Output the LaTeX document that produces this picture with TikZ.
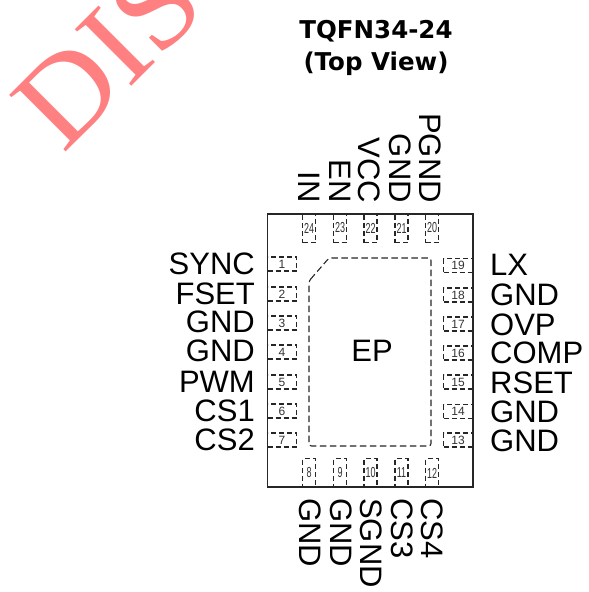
\documentclass[tikz,border=0pt]{standalone}
\usepackage{fontspec}
\setmainfont{Liberation Sans}
\newfontfamily\titlefont{DejaVu Sans}
\newfontfamily\markfont[FakeStretch=1.05]{Liberation Serif}
\newfontfamily\thinfont[FakeStretch=0.62]{Liberation Sans}
\usepackage{xcolor}
\usepackage{tikz}
\definecolor{markred}{HTML}{FF8080}
\definecolor{pinnum}{HTML}{333333}

\begin{document}
\begin{tikzpicture}[
            x=1pt, y=-1pt,
            padside/.style={rectangle, draw=black!85, dashed, dash pattern=on 5pt off 3pt, line width=1.1pt, text=pinnum, inner sep=0pt, minimum width=29pt, minimum height=14pt, font=\fontsize{12}{12}\selectfont},
            padvert/.style={rectangle, draw=black!85, dashed, dash pattern=on 5pt off 3pt, line width=1.1pt, text=pinnum, inner sep=0pt, minimum width=13pt, minimum height=29pt, font=\thinfont\fontsize{14.5}{14.5}\selectfont},
            pinleft/.style={anchor=east, inner sep=0pt, font=\fontsize{31}{31}\selectfont},
            pinright/.style={anchor=west, inner sep=0pt, font=\fontsize{31}{31}\selectfont},
            pintop/.style={anchor=east, rotate=-90, inner sep=0pt, font=\fontsize{31}{31}\selectfont},
            pinbottom/.style={anchor=west, rotate=-90, inner sep=0pt, font=\fontsize{31}{31}\selectfont}
        ]
        \useasboundingbox (0,0) rectangle (589,592);

        \node[rotate=45, anchor=base west, inner sep=0pt, text=markred, font=\markfont\fontsize{122}{122}\selectfont] (mark) at (63,155) {DIS};

        \node[align=center, inner sep=0pt, font=\titlefont\bfseries\fontsize{24.5}{32}\selectfont] (title) at (376,48) {TQFN34-24\\(Top View)};

        \node[padside] (pad1) at (282,264) {1};
        \node[padside] (pad2) at (282,294) {2};
        \node[padside] (pad3) at (282,323) {3};
        \node[padside] (pad4) at (282,352) {4};
        \node[padside] (pad5) at (282,382) {5};
        \node[padside] (pad6) at (282,411) {6};
        \node[padside] (pad7) at (282,440) {7};

        \node[padvert] (pad8) at (309,473) {8};
        \node[padvert] (pad9) at (340,473) {9};
        \node[padvert] (pad10) at (370.5,473) {10};
        \node[padvert] (pad11) at (401.5,473) {11};
        \node[padvert] (pad12) at (432,473) {12};

        \node[padside] (pad13) at (458,440) {13};
        \node[padside] (pad14) at (458,411.5) {14};
        \node[padside] (pad15) at (458,382) {15};
        \node[padside] (pad16) at (458,353) {16};
        \node[padside] (pad17) at (458,324) {17};
        \node[padside] (pad18) at (458,295) {18};
        \node[padside] (pad19) at (458,265.5) {19};

        \node[padvert] (pad20) at (432,228) {20};
        \node[padvert] (pad21) at (401.5,228) {21};
        \node[padvert] (pad22) at (370.5,228) {22};
        \node[padvert] (pad23) at (340,228) {23};
        \node[padvert] (pad24) at (309,228) {24};

        \draw[line width=1.3pt, draw=black!85] (267.5,214) rectangle (473,487);
        \draw[dashed, dash pattern=on 6.5pt off 3.5pt, line width=1.1pt, draw=black!85, rounded corners=2.5pt] (309,281) -- (329,258) -- (431,258) -- (431,446) -- (309,446) -- cycle;
        \node[inner sep=0pt, font=\fontsize{31}{31}\selectfont] (ep) at (372,351) {EP};

        \node[pinleft] (sync) at (255,264) {SYNC};
        \node[pinleft] (fset) at (255,294) {FSET};
        \node[pinleft] (gnda) at (255,322) {GND};
        \node[pinleft] (gndb) at (255,351) {GND};
        \node[pinleft] (pwm) at (255,382) {PWM};
        \node[pinleft] (csa) at (255,411) {CS1};
        \node[pinleft] (csb) at (255,440) {CS2};

        \node[pinright] (lx) at (490,265) {LX};
        \node[pinright] (gndc) at (490,295) {GND};
        \node[pinright] (ovp) at (490,325) {OVP};
        \node[pinright] (comp) at (490,353) {COMP};
        \node[pinright] (rset) at (490,383) {RSET};
        \node[pinright] (gndd) at (490,412) {GND};
        \node[pinright] (gnde) at (490,441) {GND};

        \node[pintop] (in) at (309,203) {IN};
        \node[pintop] (en) at (340,203) {EN};
        \node[pintop] (vcc) at (369,203) {VCC};
        \node[pintop] (gndf) at (400,203) {GND};
        \node[pintop] (pgnd) at (430,203) {PGND};

        \node[pinbottom] (gndg) at (310,498) {GND};
        \node[pinbottom] (gndh) at (341,498) {GND};
        \node[pinbottom] (sgnd) at (371,498) {SGND};
        \node[pinbottom] (csc) at (402,498) {CS3};
        \node[pinbottom] (csd) at (432,498) {CS4};
    \end{tikzpicture}
\end{document}
